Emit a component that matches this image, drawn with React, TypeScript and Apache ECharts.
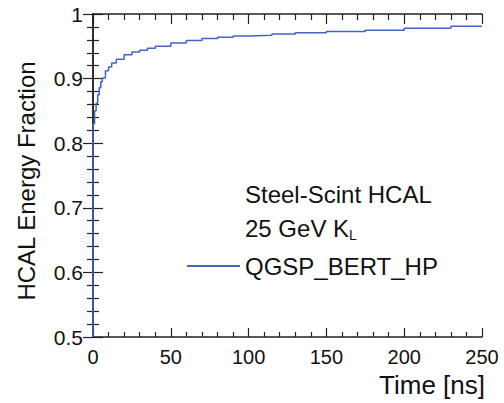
import React, { useEffect, useRef } from "react";
import * as echarts from "echarts";

const times = [0, 0, 1, 2, 3, 4, 5, 6, 8, 10, 12, 15, 20, 25, 30, 35, 40, 50, 60, 70, 80, 90, 100, 115, 130, 150, 175, 200, 230, 250];
const fractions = [0.5, 0.83, 0.85, 0.862, 0.875, 0.886, 0.895, 0.901, 0.912, 0.918, 0.924, 0.93, 0.937, 0.941, 0.944, 0.947, 0.95, 0.955, 0.959, 0.962, 0.964, 0.966, 0.967, 0.969, 0.971, 0.973, 0.975, 0.978, 0.981, 0.982];
const seriesName = "QGSP_BERT_HP";
const infoLine1 = "Steel-Scint HCAL";
const infoLine2 = "25 GeV K";
const infoSub = "L";
const xTitle = "Time [ns]";
const yTitle = "HCAL Energy Fraction";

const FONT = "'Liberation Sans', Arial, Helvetica, sans-serif";
const AXIS_COLOR = "#222";
const LINE_COLOR = "#4463c6";

export default function App() {
  const ref = useRef<HTMLDivElement>(null);
  useEffect(() => {
    if (!ref.current) return;
    const chart = echarts.init(ref.current, undefined, { renderer: "svg" });
    const axisCommon = {
      axisLine: { show: true, lineStyle: { color: AXIS_COLOR, width: 1.5 } },
      splitLine: { show: false },
    };
    chart.setOption({
      animation: false,
      backgroundColor: "#fff",
      textStyle: { fontFamily: FONT },
      grid: { left: 93, right: 22, top: 14, bottom: 66, containLabel: false },
      xAxis: [
        {
          type: "value",
          min: 0,
          max: 250,
          interval: 50,
          position: "bottom",
          ...axisCommon,
          axisTick: { show: true, inside: true, length: 9, lineStyle: { color: AXIS_COLOR, width: 1.2 } },
          minorTick: { show: true, splitNumber: 5, length: 5, lineStyle: { color: AXIS_COLOR, width: 1.2 } },
          axisLabel: { color: "#111", fontSize: 20, fontFamily: FONT, margin: 10 },
        },
        {
          type: "value",
          min: 0,
          max: 250,
          interval: 50,
          position: "top",
          ...axisCommon,
          axisTick: { show: true, inside: true, length: 10, lineStyle: { color: AXIS_COLOR, width: 1.2 } },
          minorTick: { show: true, splitNumber: 5, length: 6, lineStyle: { color: AXIS_COLOR, width: 1.2 } },
          axisLabel: { show: false },
        },
      ],
      yAxis: [
        {
          type: "value",
          min: 0.5,
          max: 1,
          interval: 0.1,
          position: "left",
          ...axisCommon,
          axisTick: { show: true, inside: true, length: 10, lineStyle: { color: AXIS_COLOR, width: 1.2 } },
          minorTick: { show: true, splitNumber: 5, length: 6, lineStyle: { color: AXIS_COLOR, width: 1.2 } },
          axisLabel: {
            color: "#111",
            fontSize: 21,
            fontFamily: FONT,
            margin: 10,
            formatter: (v: number) => (Math.abs(v - 1) < 1e-9 ? "1" : v.toFixed(1)),
          },
        },
        {
          type: "value",
          min: 0.5,
          max: 1,
          interval: 0.1,
          position: "right",
          ...axisCommon,
          axisTick: { show: true, inside: true, length: 10, lineStyle: { color: AXIS_COLOR, width: 1.2 } },
          minorTick: { show: true, splitNumber: 5, length: 6, lineStyle: { color: AXIS_COLOR, width: 1.2 } },
          axisLabel: { show: false },
        },
      ],
      legend: {
        show: true,
        left: 182,
        top: 249,
        icon: "rect",
        itemWidth: 53,
        itemHeight: 2,
        itemGap: 10,
        textStyle: { fontSize: 24, color: "#111", fontFamily: FONT },
        data: [seriesName],
      },
      graphic: [
        {
          type: "text",
          x: 245,
          y: 194,
          style: { text: infoLine1, fontSize: 24, fontFamily: FONT, fill: "#111", align: "left", verticalAlign: "middle" },
        },
        {
          type: "text",
          x: 245,
          y: 228,
          style: {
            text: `{m|${infoLine2}}{s|${infoSub}}`,
            fontFamily: FONT,
            fill: "#111",
            align: "left",
            verticalAlign: "middle",
            rich: {
              m: { fontSize: 24, fontFamily: FONT, fill: "#111" },
              s: { fontSize: 14, fontFamily: FONT, fill: "#111", padding: [14, 0, 0, 0] },
            },
          },
        },
        {
          type: "text",
          x: 485,
          y: 385,
          style: { text: xTitle, fontSize: 26, fontFamily: FONT, fill: "#111", align: "right", verticalAlign: "middle" },
        },
        {
          type: "text",
          x: 26,
          y: 181,
          rotation: Math.PI / 2,
          style: { text: yTitle, fontSize: 24, fontFamily: FONT, fill: "#111", align: "center", verticalAlign: "middle" },
        },
      ],
      series: [
        {
          name: seriesName,
          type: "line",
          step: "end",
          showSymbol: false,
          symbol: "none",
          xAxisIndex: 0,
          yAxisIndex: 0,
          lineStyle: { color: LINE_COLOR, width: 1.5 },
          itemStyle: { color: LINE_COLOR },
          data: times.map((t, i) => [t, fractions[i]]),
        },
      ],
    });
    return () => chart.dispose();
  }, []);
  return <div ref={ref} style={{ position: "absolute", left: 0, top: 0, width: 504, height: 403 }} />;
}
